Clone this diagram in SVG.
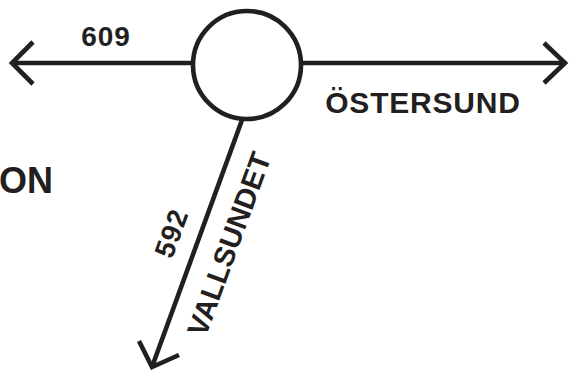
<svg xmlns="http://www.w3.org/2000/svg" width="574" height="374" viewBox="0 0 574 374">
<style>
.ln{fill:none;stroke:#231f20;stroke-width:4.6;stroke-linecap:butt;stroke-linejoin:miter}
.t{font-family:"Liberation Sans",Arial,sans-serif;font-weight:bold;fill:#231f20}
</style>
<rect width="574" height="374" fill="#fff"/>
<g id="connectors">
<path class="ln" d="M192 63H12"/>
<path class="ln" d="M33 42L12 63L33 84"/>
<path class="ln" d="M302 63H566"/>
<path class="ln" d="M544 43L565 63L544 83"/>
<path class="ln" d="M242 120L152 367"/>
<path class="ln" d="M139 341L152 367L179 355"/>
</g>
<g id="roundabout">
<circle cx="247" cy="65" r="54" fill="#fff" stroke="#231f20" stroke-width="4.6"/>
</g>
<g id="label-609"><text class="t" x="106" y="46" font-size="28" text-anchor="middle" letter-spacing="1">609</text></g>
<g id="label-ostersund"><text class="t" x="423" y="113" font-size="30" text-anchor="middle" letter-spacing="0.8">ÖSTERSUND</text></g>
<g id="label-on"><text class="t" x="53" y="193" font-size="36" text-anchor="end">ON</text></g>
<g id="label-592"><text class="t" font-size="28" text-anchor="middle" letter-spacing="1" transform="translate(180.5 236.5) rotate(-70)">592</text></g>
<g id="label-vallsundet"><text class="t" font-size="29" text-anchor="middle" letter-spacing="0" transform="translate(238.5 247.5) rotate(-70)">VALLSUNDET</text></g>
</svg>
